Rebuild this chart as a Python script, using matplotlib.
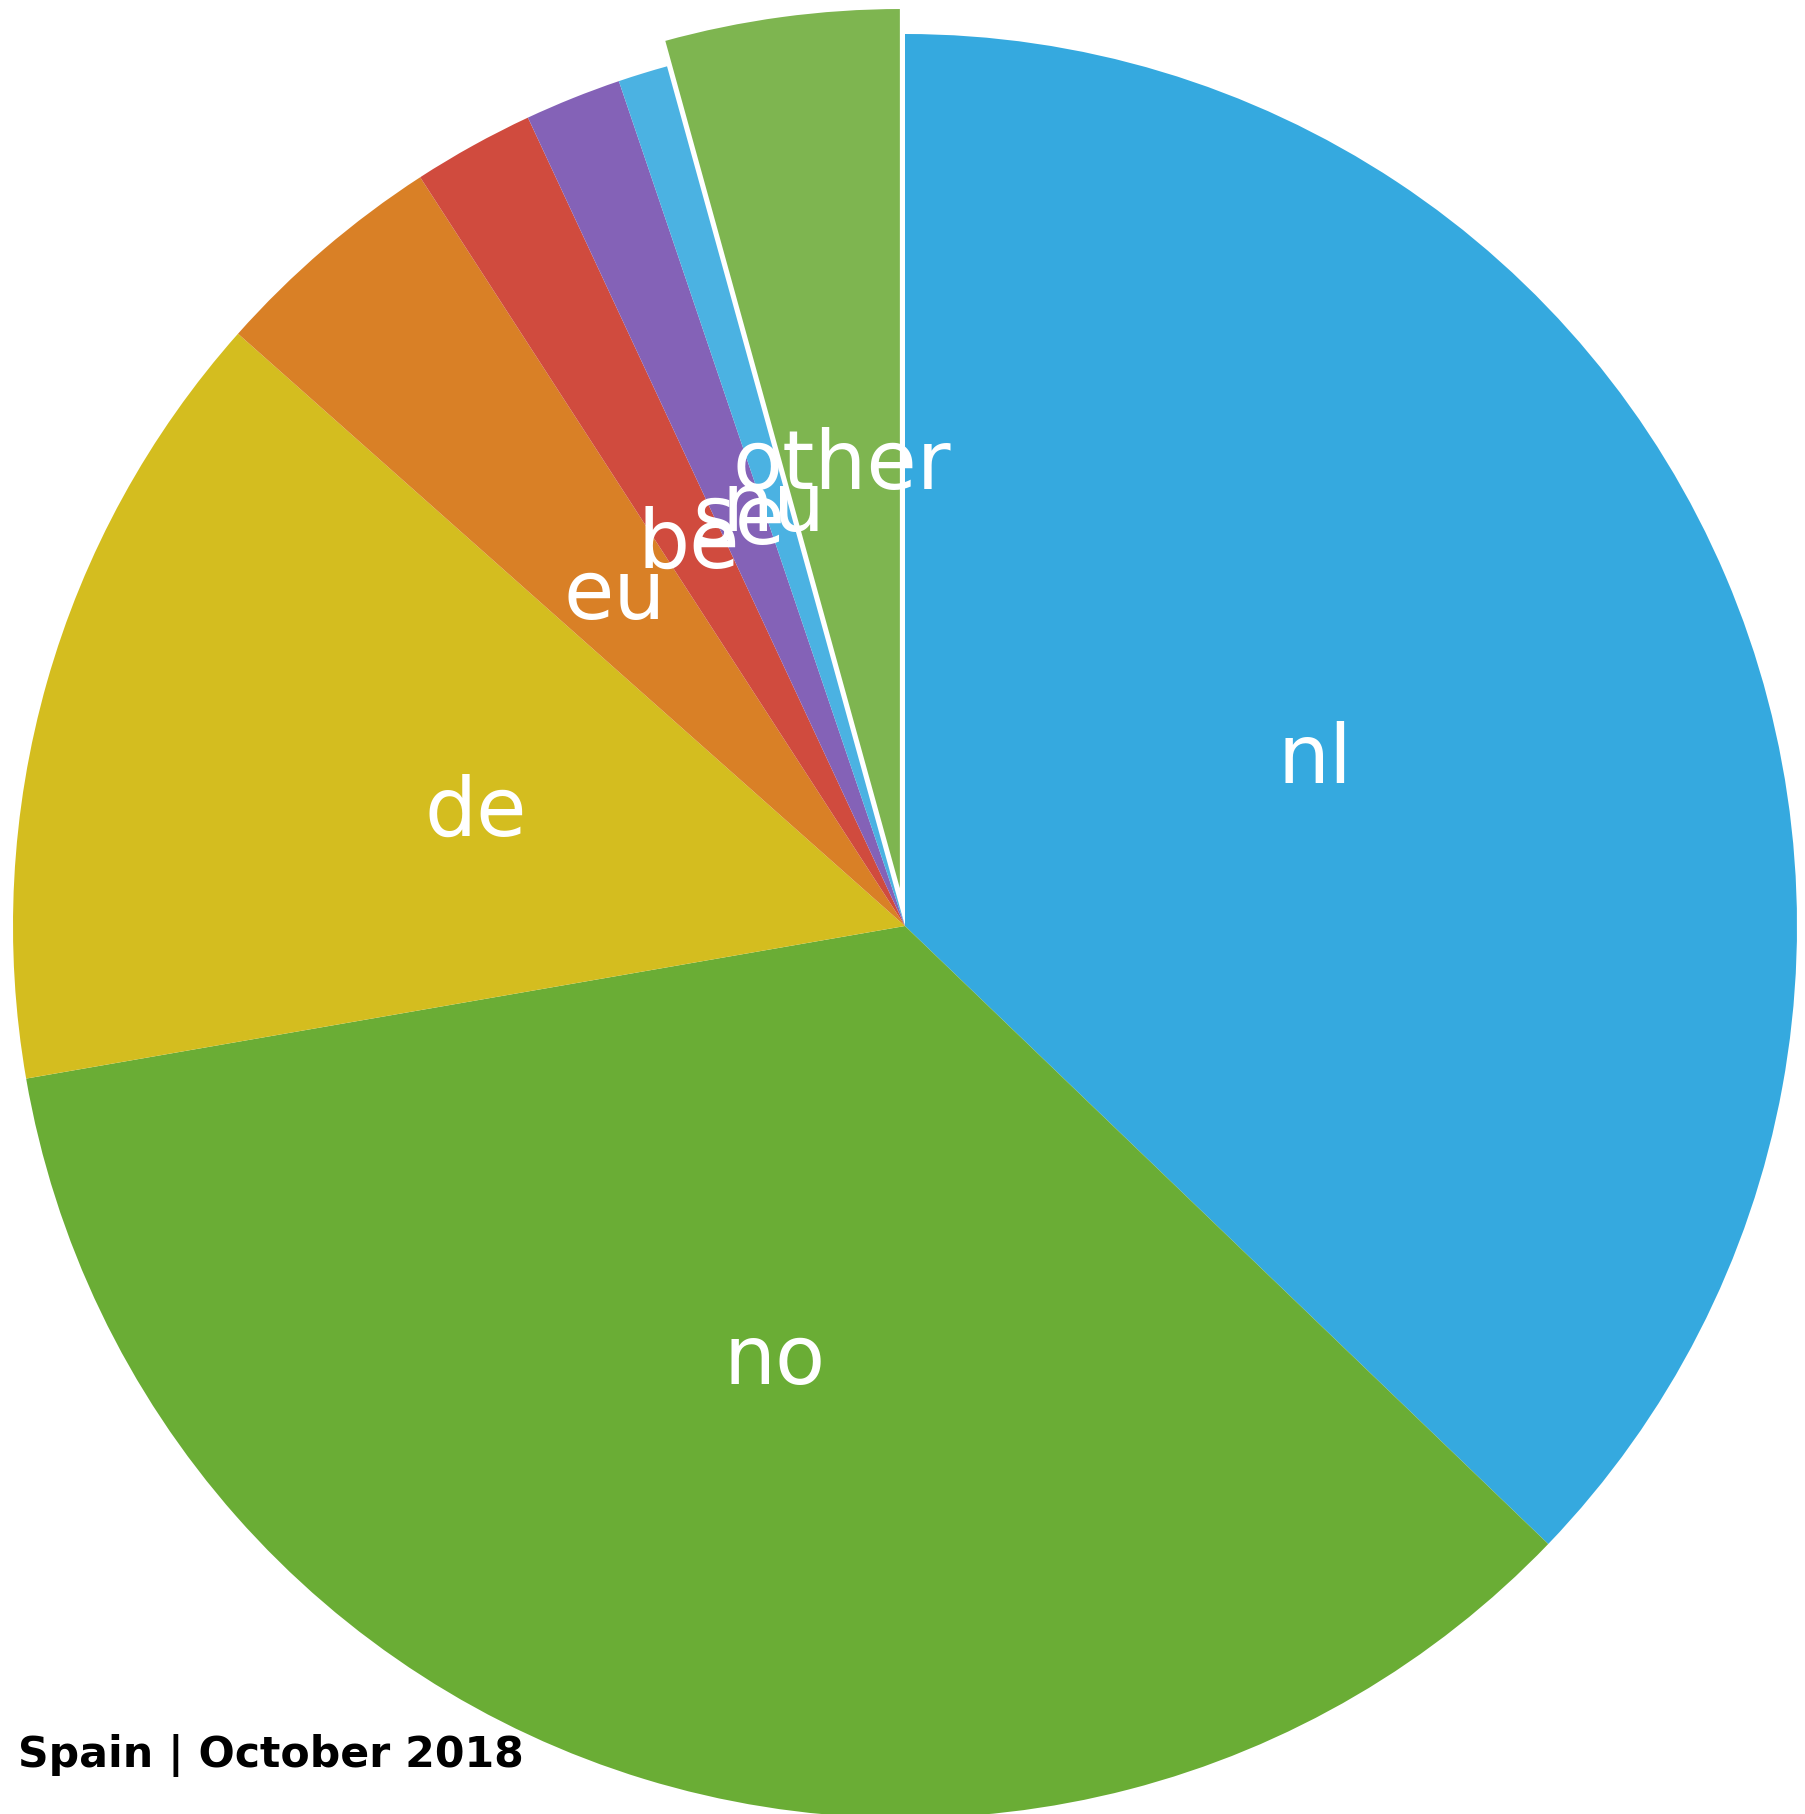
import matplotlib
matplotlib.use("Agg")
import matplotlib.pyplot as plt

labels = ["nl", "no", "de", "eu", "be", "se", "nu", "other"]
values = [37.2, 35.1, 14.3, 4.3, 2.2, 1.75, 0.9, 4.3]
colors = ["#35A9DF", "#6AAD35", "#D4BD1F", "#D98026", "#D04B3E", "#8462B7", "#4BB2E2", "#7EB550"]
explode = [0, 0, 0, 0, 0, 0, 0, 0.03]
title = "Spain | October 2018"

W, H = 1805, 1815
cx, cy, R = 905, 927, 892
fig = plt.figure(figsize=(W / 100, H / 100), dpi=100)
ax = fig.add_axes([0, 0, 1, 1])
wedges, texts = ax.pie(values, labels=labels, colors=colors, explode=explode,
                       startangle=90, counterclock=False, labeldistance=0.5,
                       textprops=dict(color="white", fontsize=59, ha="center", va="center"))
for w in wedges:
    w.set_linewidth(0)
wedges[-1].set_edgecolor("white")
wedges[-1].set_linewidth(2.2)
for t in texts:
    x, y = t.get_position()
    t.set_position((x, y - 8 / R))
ax.set_xlim(-cx / R, (W - cx) / R)
ax.set_ylim(-(H - cy) / R, cy / R)
ax.set_aspect("auto")
ax.axis("off")
fig.text(18 / W, 1 - 1767 / H, title, fontsize=30.7, fontweight="bold", ha="left", va="baseline")
fig.savefig("out.png", dpi=100)
